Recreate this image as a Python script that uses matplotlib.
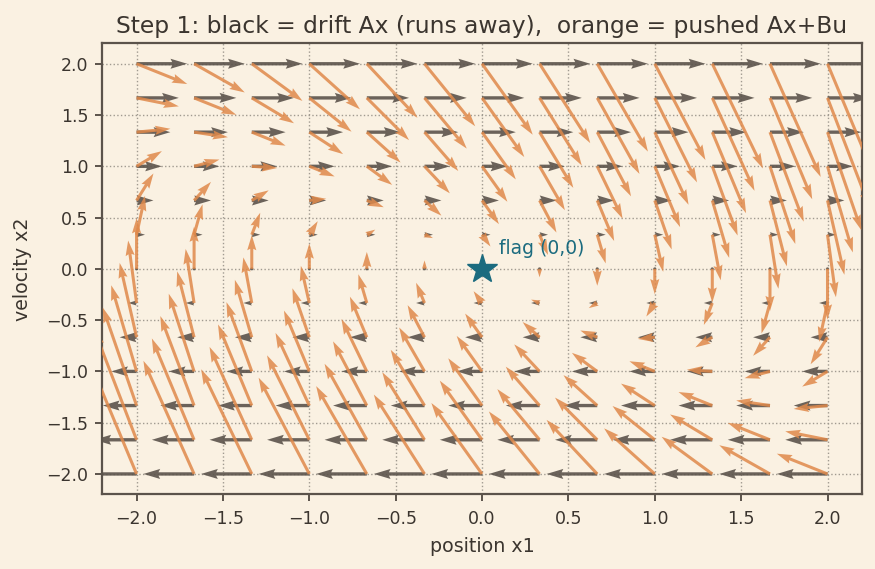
import numpy as np
import matplotlib
matplotlib.use("Agg")
from matplotlib import pyplot as plt

# grid of states (position x1, velocity x2)
x1_vals = [-2.0, -1.667, -1.333, -1.0, -0.667, -0.333, 0.0, 0.333, 0.667, 1.0, 1.333, 1.667, 2.0]
x2_vals = [-2.0, -1.667, -1.333, -1.0, -0.667, -0.333, 0.0, 0.333, 0.667, 1.0, 1.333, 1.667, 2.0]

# double integrator + feedback u = -Kx
A = [[0.0, 1.0], [0.0, 0.0]]
B = [0.0, 1.0]
K = [1.0, 1.4]

xticks = [-2.0, -1.5, -1.0, -0.5, 0.0, 0.5, 1.0, 1.5, 2.0]
yticks = [-2.0, -1.5, -1.0, -0.5, 0.0, 0.5, 1.0, 1.5, 2.0]

bg = "#faf1e2"
txt = "#3b352f"
dark = "#5b534b"
orange = "#e0894a"
teal = "#1b6b7f"

X1, X2 = np.meshgrid(x1_vals, x2_vals)
A = np.array(A)
B = np.array(B)
K = np.array(K)
drift_u = A[0, 0] * X1 + A[0, 1] * X2
drift_v = A[1, 0] * X1 + A[1, 1] * X2
u = -(K[0] * X1 + K[1] * X2)
push_u = drift_u + B[0] * u
push_v = drift_v + B[1] * u

fig = plt.figure(figsize=(8.75, 5.69), dpi=100)
fig.set_facecolor(bg)
ax = fig.add_axes([0.1166, 0.131, 0.8686, 0.793])
ax.set_facecolor(bg)

ax.quiver(X1, X2, drift_u, drift_v, color=dark, alpha=0.9, scale=30, width=0.0044,
          zorder=3)
ax.quiver(X1, X2, push_u, push_v, color=orange, alpha=0.85, scale=30, width=0.004,
          zorder=4)

ax.plot(0, 0, marker="*", markersize=22, color=teal, zorder=5, linestyle="none")
ax.text(0.1, 0.14, "flag (0,0)", color=teal, fontsize=13.5, zorder=6)

ax.set_xlim(-2.2, 2.2)
ax.set_ylim(-2.2, 2.2)
ax.set_xticks(xticks)
ax.set_yticks(yticks)
ax.grid(True, linestyle=":", color="#a09a90", linewidth=1.0, zorder=0)
ax.set_axisbelow(True)

for s in ax.spines.values():
    s.set_color(dark)
    s.set_linewidth(1.6)
ax.tick_params(colors=txt, labelsize=12.5, length=5, width=1.4, pad=5)
ax.tick_params(axis="x", pad=6)
ax.tick_params(axis="both", color=dark)

ax.set_title("Step 1: black = drift Ax (runs away),  orange = pushed Ax+Bu", color=txt,
             fontsize=16.8, pad=7.5)
ax.set_xlabel("position x1", color=txt, fontsize=13.7, labelpad=7)
ax.set_ylabel("velocity x2", color=txt, fontsize=13.7, labelpad=10)

fig.savefig("out.png", dpi=100, facecolor=bg)
